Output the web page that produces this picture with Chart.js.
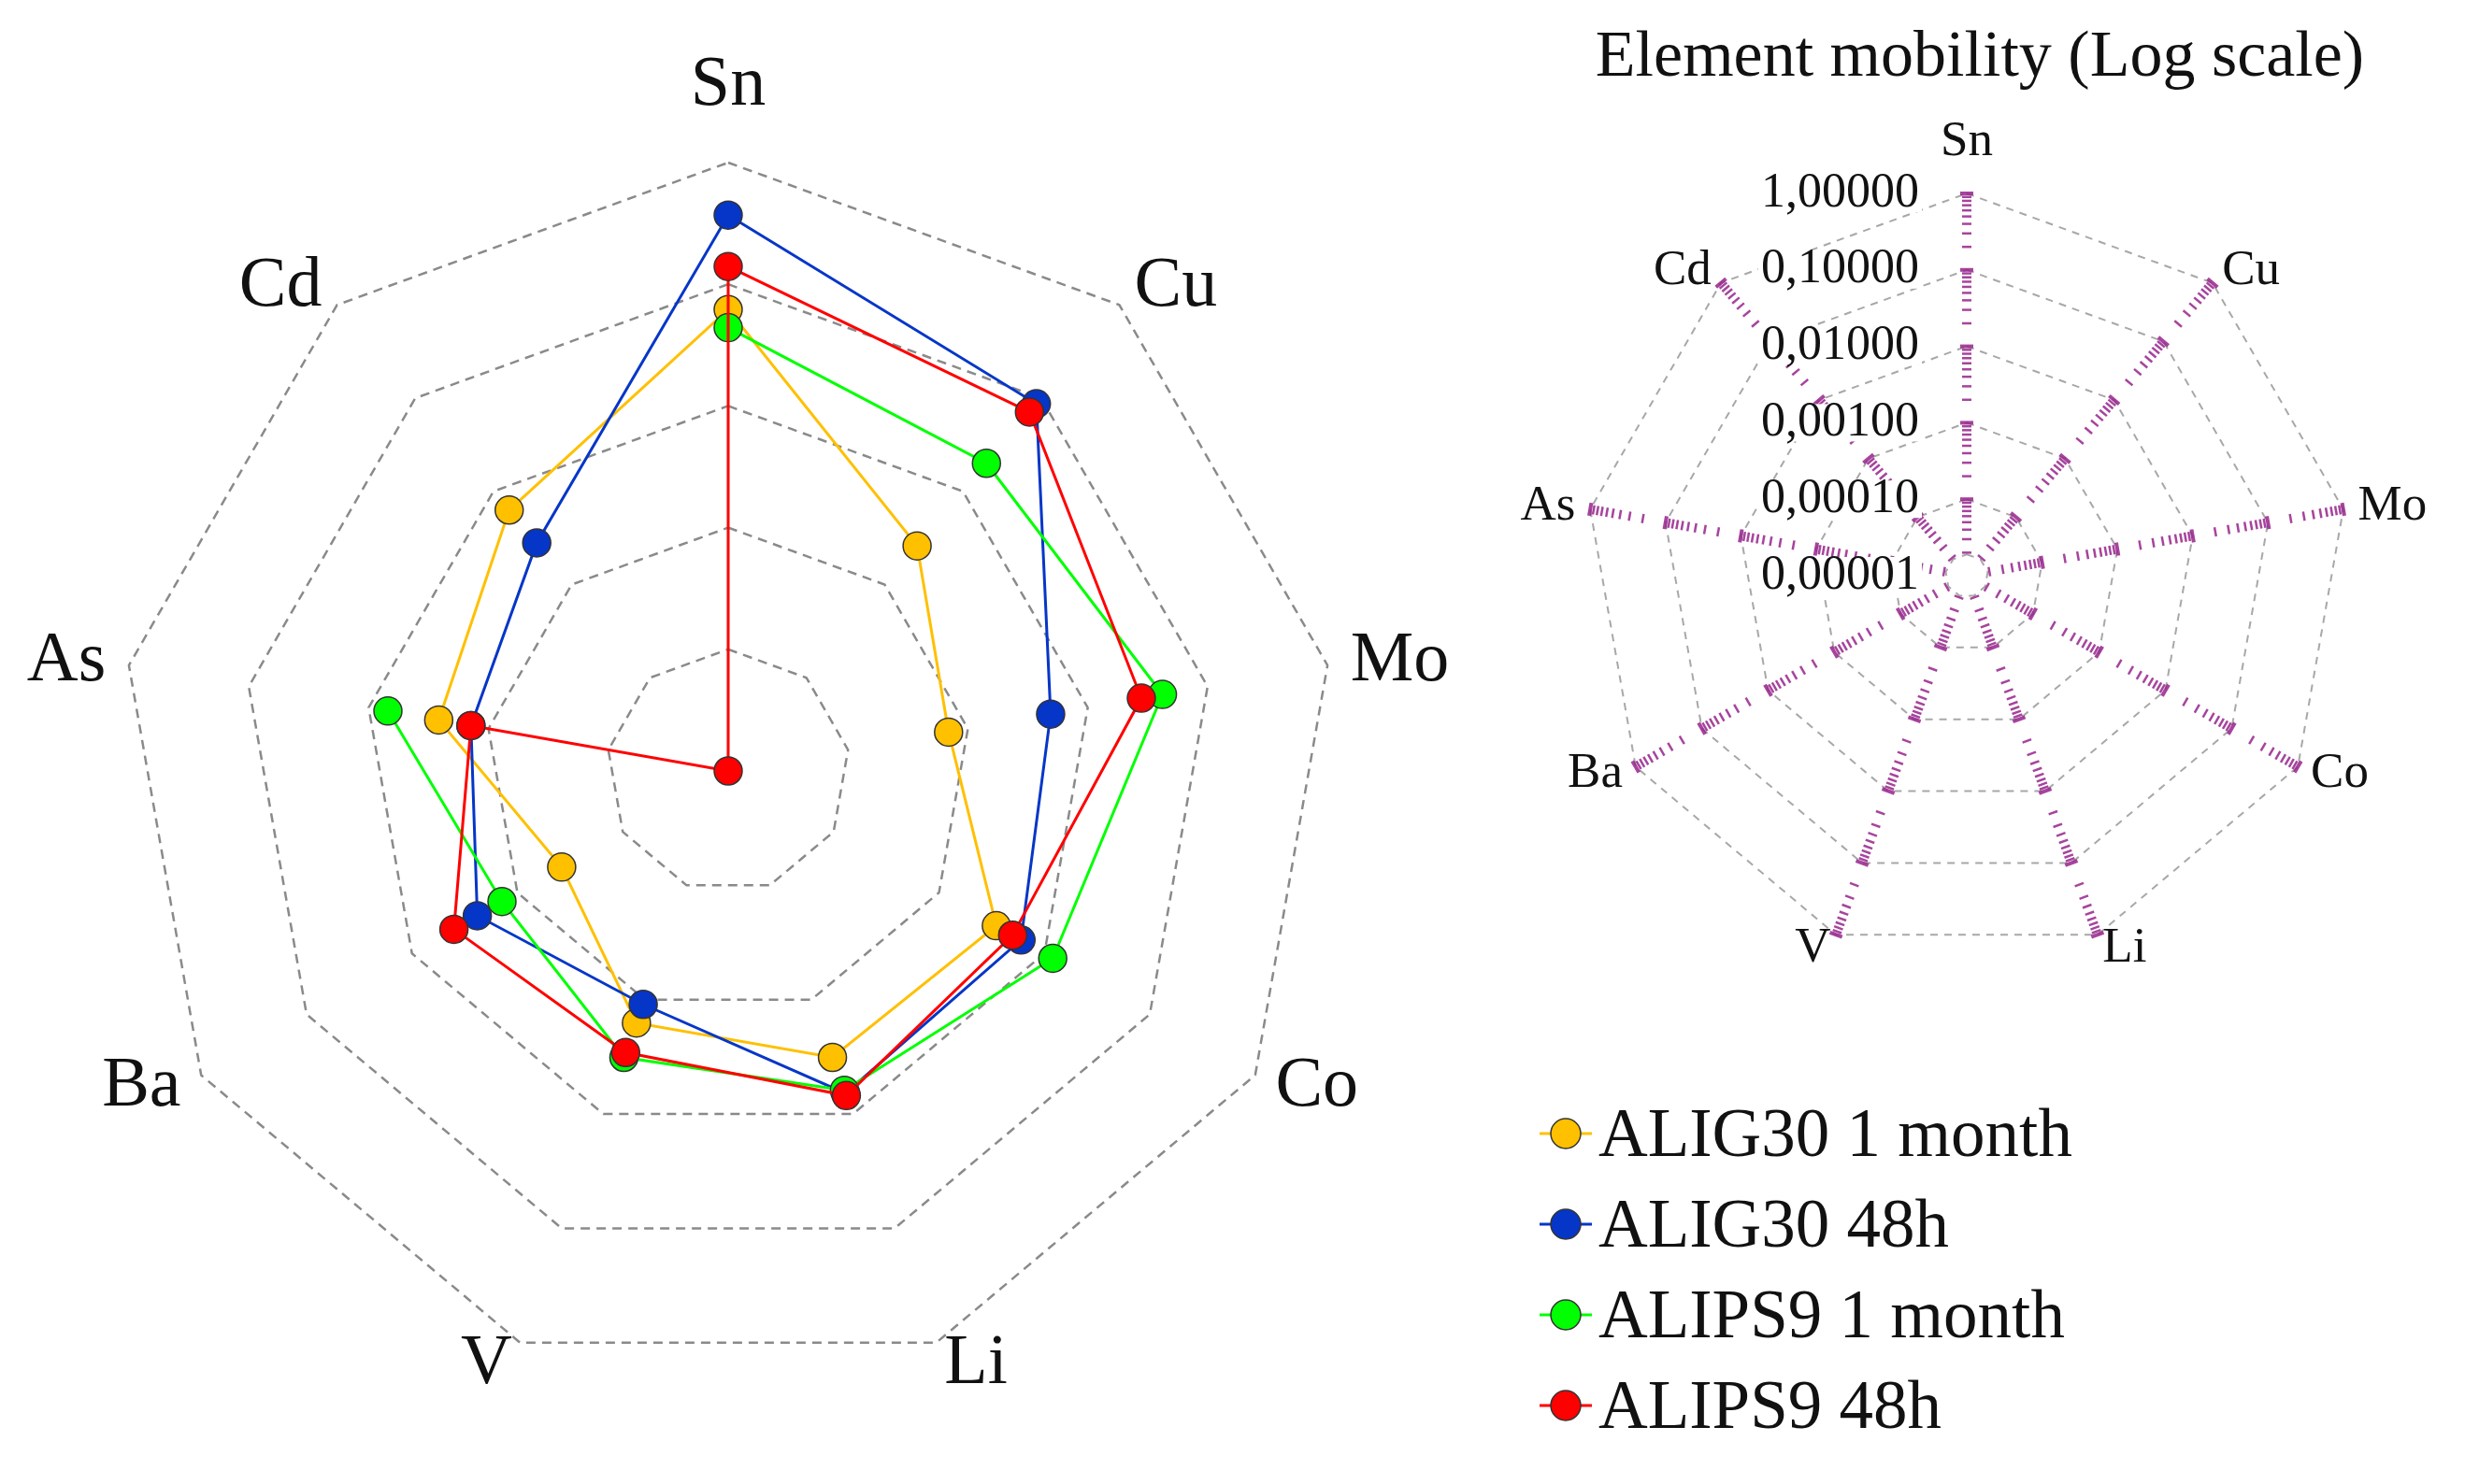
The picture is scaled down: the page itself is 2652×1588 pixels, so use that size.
<!DOCTYPE html>
<html>
<head>
<meta charset="utf-8">
<title>Element mobility</title>
<script src="https://cdn.jsdelivr.net/npm/chart.js@4.4.1/dist/chart.umd.min.js"></script>
<style>
html, body { margin: 0; padding: 0; background: #fff; }
body { width: 2652px; height: 1588px; position: relative; overflow: hidden; font-family: "Liberation Serif", "DejaVu Serif", serif; color: #111; }
#main { position: absolute; left: 0; top: 0; }
#scale { position: absolute; left: 1580px; top: 0; }
#title { position: absolute; left: 1580px; top: 23px; width: 1076px; text-align: center; font-size: 70px; line-height: 70px; white-space: nowrap; }
#legend { position: absolute; left: 1647px; top: 1164px; }
#legend .row { display: flex; align-items: center; height: 97px; font-size: 73px; line-height: 97px; white-space: nowrap; }
#legend svg { margin-right: 7px; }
</style>
</head>
<body>
<canvas id="main" width="1560" height="1588"></canvas>
<canvas id="scale" width="1072" height="1100"></canvas>
<div id="title">Element mobility (Log scale)</div>
<div id="legend"></div>
<script>
// elements on the radar axes, clockwise from the top
const elements = ['Sn', 'Cu', 'Mo', 'Co', 'Li', 'V', 'Ba', 'As', 'Cd'];

const seriesNames = ['ALIG30 1 month', 'ALIG30 48h', 'ALIPS9 1 month', 'ALIPS9 48h'];
const seriesColors = ['#ffc000', '#0636c8', '#00ff00', '#ff0000'];

// mobility (fraction)
const alig30Month = [0.062, 0.0026, 0.00069, 0.0035, 0.0032, 0.0016, 0.00038, 0.0026, 0.0063];
const alig30Hours = [0.37, 0.087, 0.0049, 0.0060, 0.0066, 0.0011, 0.0024, 0.0014, 0.0028];
const alips9Month = [0.044, 0.020, 0.042, 0.012, 0.0062, 0.0032, 0.0014, 0.0069, null];
const alips9Hours = [0.14, 0.071, 0.028, 0.0050, 0.0069, 0.0029, 0.0040, 0.0014, 0.00001];

// log axis of the small key chart
const tickValues = [1, 0.1, 0.01, 0.001, 0.0001, 0.00001];
const tickLabels = ['1,00000', '0,10000', '0,01000', '0,00100', '0,00010', '0,00001'];
const innerRing = 0.000019;

const logMin = Math.log10(0.00001);
const logMax = Math.log10(1);
const toLog = arr => arr.map(v => v == null ? null : Math.log10(v));

// element names placed next to each axis end
const axisLabels = {
  id: 'axisLabels',
  afterDraw(chart, args, opts) {
    const r = chart.scales.r;
    const ctx = chart.ctx;
    ctx.save();
    ctx.font = opts.font;
    ctx.fillStyle = '#111';
    ctx.textBaseline = 'middle';
    elements.forEach((name, i) => {
      const a = r.getIndexAngle(i);
      const s = Math.sin(a);
      const top = Math.cos(a) > 0.95;
      const p = r.getPointPosition(i, r.drawingArea + (top ? opts.topGap : opts.gap));
      ctx.textAlign = Math.abs(s) < 0.05 ? 'center' : (s > 0 ? 'left' : 'right');
      ctx.fillText(name, p.x, p.y);
    });
    ctx.restore();
  }
};

// log minor ticks along every spoke + value labels left of the top spoke
const logSpokes = {
  id: 'logSpokes',
  afterDraw(chart, args, opts) {
    const r = chart.scales.r;
    const ctx = chart.ctx;
    ctx.save();
    ctx.strokeStyle = 'rgba(150, 35, 140, 0.85)';
    elements.forEach((name, i) => {
      const a = r.getIndexAngle(i) - Math.PI / 2;
      const px = -Math.sin(a), py = Math.cos(a);
      for (let d = logMin; d <= logMax; d++) {
        for (let k = 1; k <= 9; k++) {
          const v = d + Math.log10(k);
          if (v > logMax) break;
          const dist = r.getDistanceFromCenterForValue(v);
          if (dist < 2) continue;
          const p = r.getPointPosition(i, dist);
          const len = k === 1 ? 7 : 5;
          ctx.lineWidth = k === 1 ? 4 : 2.5;
          ctx.beginPath();
          ctx.moveTo(p.x - px * len, p.y - py * len);
          ctx.lineTo(p.x + px * len, p.y + py * len);
          ctx.stroke();
        }
      }
    });
    ctx.font = opts.font;
    ctx.textBaseline = 'middle';
    ctx.textAlign = 'right';
    tickValues.forEach((v, j) => {
      const y = r.yCenter - r.getDistanceFromCenterForValue(Math.log10(v));
      const x = r.xCenter + opts.offsetX;
      const w = ctx.measureText(tickLabels[j]).width;
      ctx.fillStyle = '#fff';
      ctx.fillRect(x - w - 3, y - 20, w + 6, 40);
      ctx.fillStyle = '#111';
      ctx.fillText(tickLabels[j], x, y);
    });
    ctx.restore();
  }
};

const series = [alig30Month, alig30Hours, alips9Month, alips9Hours];

new Chart(document.getElementById('main').getContext('2d'), {
  type: 'radar',
  data: {
    labels: elements,
    datasets: series.map((vals, i) => ({
      label: seriesNames[i],
      data: toLog(vals),
      borderColor: seriesColors[i],
      backgroundColor: seriesColors[i],
      borderWidth: 3,
      fill: false,
      spanGaps: false,
      pointRadius: 15,
      pointBackgroundColor: seriesColors[i],
      pointBorderColor: '#333',
      pointBorderWidth: 1.5,
      order: series.length - i
    }))
  },
  options: {
    responsive: false,
    animation: false,
    devicePixelRatio: 1,
    events: [],
    layout: { padding: { left: 128, top: 174, right: 130, bottom: 112 } },
    plugins: {
      legend: { display: false },
      tooltip: { enabled: false },
      axisLabels: { font: '76px "Liberation Serif"', gap: 25, topGap: 82 }
    },
    scales: {
      r: {
        min: logMin,
        max: logMax,
        ticks: { display: false, stepSize: 1 },
        angleLines: { display: false },
        grid: { color: '#8a8a8a', lineWidth: 2.5 },
        border: { dash: [10, 7] },
        pointLabels: { display: false }
      }
    }
  },
  plugins: [axisLabels]
});

new Chart(document.getElementById('scale').getContext('2d'), {
  type: 'radar',
  data: { labels: elements, datasets: [] },
  options: {
    responsive: false,
    animation: false,
    devicePixelRatio: 1,
    events: [],
    layout: { padding: { left: 115, top: 207, right: 139, bottom: 75 } },
    plugins: {
      legend: { display: false },
      tooltip: { enabled: false },
      axisLabels: { font: '53px "Liberation Serif"', gap: 16, topGap: 55 },
      logSpokes: { font: '52px "Liberation Serif"', offsetX: -51 }
    },
    scales: {
      r: {
        min: logMin,
        max: logMax,
        afterBuildTicks: scale => {
          const vals = [logMin, Math.log10(innerRing)];
          for (let d = logMin + 1; d <= logMax; d++) vals.push(d);
          scale.ticks = vals.map(v => ({ value: v }));
        },
        ticks: { display: false },
        angleLines: { display: false },
        grid: { color: '#a8a8a8', lineWidth: 2 },
        border: { dash: [8, 7] },
        pointLabels: { display: false }
      }
    }
  },
  plugins: [axisLabels, logSpokes]
});

const legend = document.getElementById('legend');
seriesNames.forEach((name, i) => {
  const row = document.createElement('div');
  row.className = 'row';
  row.innerHTML = '<svg width="56" height="40"><line x1="0" y1="20" x2="56" y2="20" stroke="' + seriesColors[i] +
    '" stroke-width="3"/><circle cx="28" cy="20" r="16" fill="' + seriesColors[i] +
    '" stroke="#333" stroke-width="1.5"/></svg><span>' + name + '</span>';
  legend.appendChild(row);
});
</script>
</body>
</html>
